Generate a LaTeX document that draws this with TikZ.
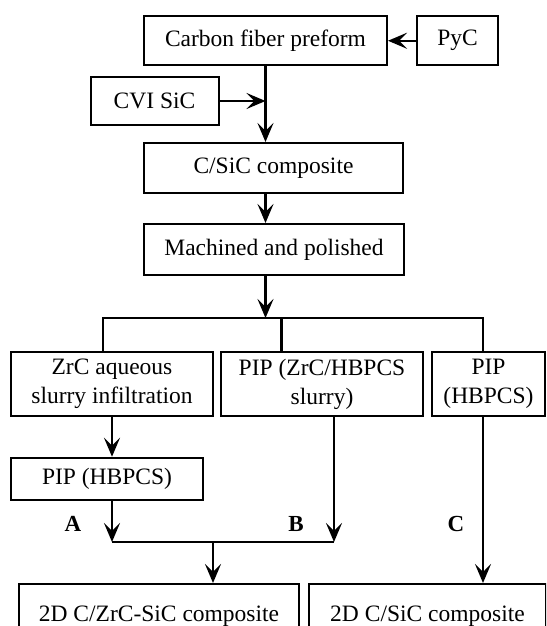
\documentclass[tikz,border=0pt]{standalone}
\usepackage{fontspec}
\setmainfont{Liberation Serif}
\usetikzlibrary{arrows.meta}
\begin{document}
\begin{tikzpicture}[x=1pt,y=-1pt,
  box/.style={draw,line width=2pt,rectangle,inner sep=0pt,align=center,
    font=\fontsize{23.5}{29}\selectfont},
  conn/.style={line width=2.2pt},
  arr/.style={conn,-{Stealth[length=19pt,width=16pt,inset=8pt]}},
  lbl/.style={font=\fontsize{23}{26}\selectfont\bfseries}]
\clip (0,0) rectangle (546,626);
\useasboundingbox (0,0) rectangle (546,626);
% boxes
\node[box,minimum width=243pt,minimum height=49.5pt] (carbon) at (265.5,40.75) {Carbon fiber preform};
\node[box,minimum width=81pt,minimum height=49.5pt] (pyc) at (457.5,40.75) {PyC};
\node[box,minimum width=128pt,minimum height=48pt] (cvi) at (154.5,101) {CVI SiC};
\node[box,minimum width=259pt,minimum height=50pt] (csic) at (273.5,168) {C/SiC composite};
\node[box,minimum width=260pt,minimum height=51pt] (mach) at (274,249.5) {Machined and polished};
\node[box,minimum width=202.5pt,minimum height=64pt] (zrc) at (112,384) {ZrC aqueous\\slurry infiltration};
\node[box,minimum width=202pt,minimum height=64pt] (pipz) at (322,384) {PIP (ZrC/HBPCS\\slurry)};
\node[box,minimum width=113pt,minimum height=64pt] (piph) at (488.5,384) {PIP\\(HBPCS)};
\node[box,minimum width=192pt,minimum height=42.5pt] (pip2) at (107,479) {PIP (HBPCS)};
\node[box,minimum width=280pt,minimum height=64pt,anchor=north] (zc) at (159,583) {2D C/ZrC-SiC composite};
\node[box,minimum width=237pt,minimum height=64pt,anchor=north] (sic2) at (427.5,583) {2D C/SiC composite};
% labels
\node[lbl] (la) at (73,524) {A};
\node[lbl] (lb) at (296,524) {B};
\node[lbl] (lc) at (456,524) {C};
% coordinates
\coordinate (bL) at (103,318);
\coordinate (bM) at (281.5,318);
\coordinate (bR) at (483,318);
\coordinate (bT) at (265.5,318);
\coordinate (mA) at (112,542);
\coordinate (mB) at (334,542);
\coordinate (mM) at (213,542);
% connectors
\draw[arr] (pyc.west) -- (carbon.east);
\draw[arr] (carbon.south) -- (carbon.south |- csic.north);
\draw[arr] (cvi.east) -- (cvi.east -| carbon.south);
\draw[arr] (csic.south -| carbon.south) -- (mach.north -| carbon.south);
\draw[arr] (mach.south -| carbon.south) -- (bT);
\draw[conn] (bL |- zrc.north) -- (bL) -- (bR) -- (bR |- piph.north);
\draw[conn] (bM) -- (bM |- pipz.north);
\draw[arr] (zrc.south) -- (zrc.south |- pip2.north);
\draw[arr] (mA |- pip2.south) -- (mA);
\draw[arr] (mB |- pipz.south) -- (mB);
\draw[conn] (mA) -- (mB);
\draw[arr] (mM) -- (mM |- zc.north);
\draw[arr] (bR |- piph.south) -- (bR |- sic2.north);
\end{tikzpicture}
\end{document}
